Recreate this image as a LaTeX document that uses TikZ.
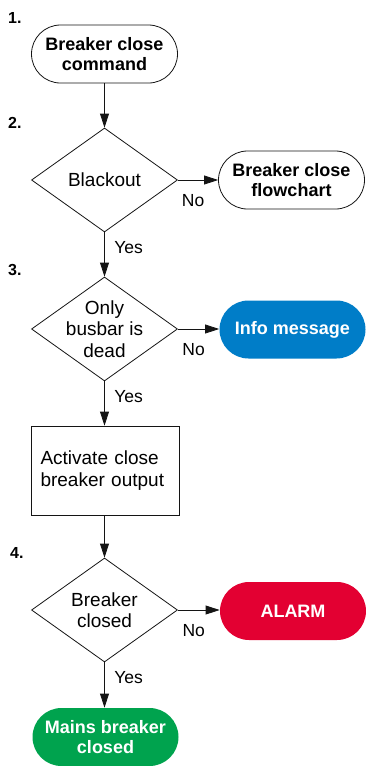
\documentclass[tikz,border=0pt]{standalone}
\usepackage{fontspec}
\setmainfont{Liberation Sans}
\usepackage{tikz}
\usetikzlibrary{positioning, arrows.meta, shapes.geometric}
\definecolor{InfoBlue}{RGB}{0,125,200}
\definecolor{AlarmRed}{RGB}{227,0,50}
\definecolor{OkGreen}{RGB}{0,163,78}
\definecolor{LineGray}{RGB}{20,20,20}

\begin{document}
\begin{tikzpicture}[x=1pt, y=-1pt,
    terminal/.style={draw=LineGray, line width=0.8pt, rounded corners=29pt, minimum width=146pt, minimum height=58pt, inner sep=0pt, align=center, font=\bfseries\fontsize{18}{20.5}\selectfont},
    filled/.style={terminal, draw=none, fill=#1, text=white},
    decision/.style={draw=LineGray, line width=0.8pt, diamond, minimum width=146pt, minimum height=104pt, inner sep=0pt},
    dtext/.style={align=center, inner sep=0pt, font=\fontsize{19}{21.5}\selectfont},
    process/.style={draw=LineGray, line width=0.8pt, minimum width=148pt, minimum height=89pt, text width=130pt, inner xsep=9pt, align=left, font=\fontsize{19}{22}\selectfont},
    flow/.style={draw=LineGray, line width=0.8pt, -{Triangle[length=14pt, width=9pt]}},
    answer/.style={inner sep=2pt, font=\fontsize{17.5}{20}\selectfont},
    numlbl/.style={anchor=west, inner sep=0pt, font=\bfseries\fontsize{16}{18}\selectfont}]
          \useasboundingbox (0,0) rectangle (365,766);
          % steps
          \node[numlbl] (n1) at (8,18) {1.};
          \node[numlbl] (n2) at (8,123) {2.};
          \node[numlbl] (n3) at (8,270) {3.};
          \node[numlbl] (n4) at (10,553) {4.};
          % main column
          \node[terminal] (start) at (104.5,54) {Breaker close\\command};
          \node[decision] (blackout) at (104.5,180) {};
          \node[dtext] at (blackout) {Blackout};
          \node[decision] (busbar) at (104.5,329) {};
          \node[dtext] at (busbar) {Only\\busbar is\\dead};
          \node[process] (activate) at (105.5,470.5) {Activate close\\breaker output};
          \node[decision] (closed) at (104.5,610) {};
          \node[dtext] at (closed) {Breaker\\closed};
          \node[filled=OkGreen] (mains) at (105.5,737) {Mains breaker\\closed};
          % right column
          \node[terminal] (flowchart) at (291.5,180) {Breaker close\\flowchart};
          \node[filled=InfoBlue] (info) at (292.5,329.5) {Info message};
          \node[filled=AlarmRed] (alarm) at (293,611) {ALARM};
          % connectors
          \draw[flow] (start.south) -- (blackout.north);
          \draw[flow] (blackout.south) -- node[answer, right=7.5pt, pos=0.34] {Yes} (busbar.north);
          \draw[flow] (busbar.south) -- node[answer, right=7.5pt, pos=0.34] {Yes} (busbar.south |- activate.north);
          \draw[flow] (busbar.south |- activate.south) -- (closed.north);
          \draw[flow] (closed.south) -- node[answer, right=7.5pt, pos=0.34] {Yes} (closed.south |- mains.north);
          \draw[flow] (blackout.east) -- node[answer, below=12pt, pos=0.38] {No} (flowchart.west);
          \draw[flow] (busbar.east) -- node[answer, below=12pt, pos=0.38] {No} (busbar.east -| info.west);
          \draw[flow] (closed.east) -- node[answer, below=12pt, pos=0.38] {No} (closed.east -| alarm.west);
        \end{tikzpicture}
\end{document}
